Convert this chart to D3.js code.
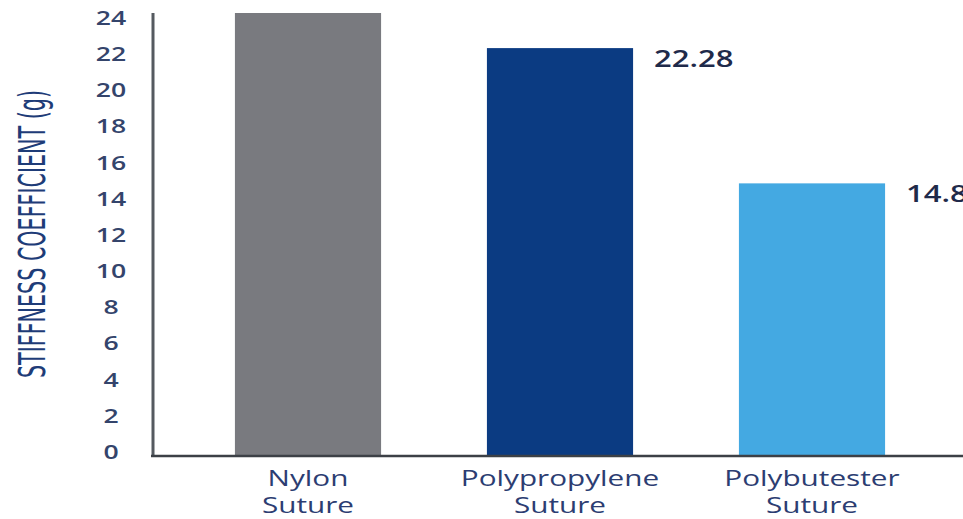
<!DOCTYPE html>
<html>
<head>
<meta charset="utf-8">
<script src="https://cdn.jsdelivr.net/npm/d3@7"></script>
<style>
  html, body { margin: 0; padding: 0; background: #fff; }
  svg { display: block; }
</style>
</head>
<body>
<div class="chart-container"></div>
<script>
// data (nylon runs past the top edge, so its value is a guess)
const categories = [["Nylon", "Suture"], ["Polypropylene", "Suture"], ["Polybutester", "Suture"]];
const values = [27, 22.28, 14.8];
const valueLabels = [null, "22.28", "14.8"];
const barColors = ["#797a7f", "#0b3b82", "#44a9e2"];
const yTicks = [0, 2, 4, 6, 8, 10, 12, 14, 16, 18, 20, 22, 24];

const w = 963;
const h = 519;
const topY = 13;
const baseY = 456;
const axisX = 153;
const stretch = 1.35; // the source image is widened, text included

const svg = d3.select(".chart-container")
    .append("svg")
    .attr("width", w)
    .attr("height", h);

svg.append("defs")
    .append("clipPath")
    .attr("id", "plot-clip")
    .append("rect")
    .attr("x", 0)
    .attr("y", topY)
    .attr("width", w)
    .attr("height", h - topY);

const yScale = d3.scaleLinear()
    .domain([0, 24])
    .range([451, 17]);

const xScale = d3.scaleBand()
    .domain(categories.map((c) => c[0]))
    .range([182, 938])
    .paddingInner(0.42)
    .paddingOuter(0.21);

// bars
svg.append("g")
    .attr("clip-path", "url(#plot-clip)")
    .selectAll("rect")
    .data(values)
    .enter()
    .append("rect")
    .attr("x", (d, i) => xScale(categories[i][0]))
    .attr("y", (d) => yScale(d))
    .attr("width", xScale.bandwidth())
    .attr("height", (d) => baseY - yScale(d))
    .attr("fill", (d, i) => barColors[i]);

// y axis, labels only
const yAxis = d3.axisLeft(yScale)
    .tickValues(yTicks)
    .tickSize(0)
    .tickPadding(0);

const yG = svg.append("g")
    .attr("transform", `translate(111,0)`)
    .call(yAxis);
yG.select(".domain").remove();
yG.selectAll("text")
    .attr("text-anchor", "middle")
    .attr("x", 0)
    .attr("dy", null)
    .attr("dominant-baseline", "central")
    .attr("transform", `scale(1.4,1)`)
    .style("font-family", "'Open Sans', sans-serif")
    .style("font-weight", "600")
    .style("font-size", "19px")
    .attr("fill", "#34446b");

// axis lines
svg.append("line")
    .attr("x1", axisX).attr("x2", axisX)
    .attr("y1", topY).attr("y2", baseY + 1)
    .attr("stroke", "#555a60")
    .attr("stroke-width", 3);
svg.append("line")
    .attr("x1", axisX - 2).attr("x2", w)
    .attr("y1", baseY).attr("y2", baseY)
    .attr("stroke", "#3c4046")
    .attr("stroke-width", 2.5);

// value labels
values.forEach((d, i) => {
    if (valueLabels[i] === null) return;
    const x = xScale(categories[i][0]) + xScale.bandwidth() + 21;
    svg.append("text")
        .attr("class", "val")
        .attr("transform", `translate(${x},${yScale(d) + 19}) scale(${stretch},1)`)
        .style("font-family", "'Open Sans', sans-serif")
        .style("font-weight", "600")
        .style("font-size", "23px")
        .attr("fill", "#1f2a4a")
        .text(valueLabels[i]);
});

// category labels
categories.forEach((c) => {
    const cx = xScale(c[0]) + xScale.bandwidth() / 2;
    const t = svg.append("text")
        .attr("class", "cat")
        .attr("text-anchor", "middle")
        .attr("transform", `translate(${cx},0) scale(${stretch},1)`)
        .style("font-family", "'Open Sans', sans-serif")
        .style("font-weight", "500")
        .style("font-size", "22px")
        .attr("fill", "#2c3d72");
    t.append("tspan").attr("x", 0).attr("y", 486).text(c[0]);
    t.append("tspan").attr("x", 0).attr("y", 513).text(c[1]);
});

// y axis title
svg.append("text")
    .attr("transform", `translate(45,${234}) rotate(-90)`)
    .attr("text-anchor", "middle")
    .attr("textLength", 288)
    .attr("lengthAdjust", "spacingAndGlyphs")
    .style("font-family", "'Liberation Sans Narrow', 'DejaVu Sans Condensed', sans-serif")
    .style("font-size", "38px")
    .attr("fill", "#1e3c78")
    .text("STIFFNESS COEFFICIENT (g)");
</script>
</body>
</html>
